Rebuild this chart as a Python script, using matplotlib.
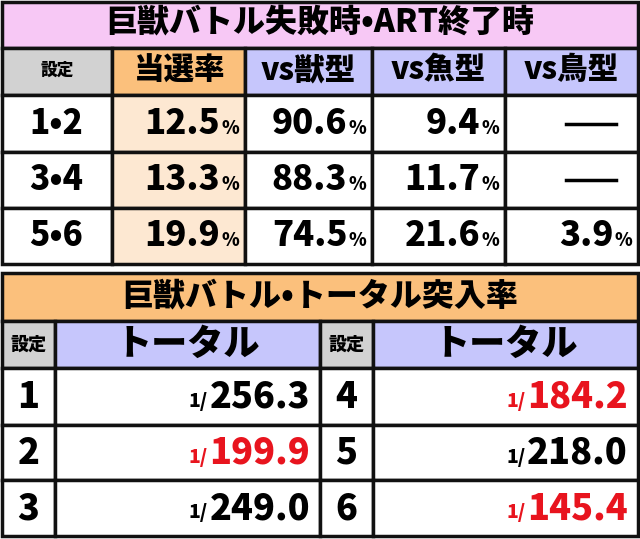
import matplotlib
matplotlib.use("Agg")
import matplotlib.pyplot as plt
from matplotlib.patches import Rectangle

plt.rcParams['font.family'] = ['Noto Sans CJK JP', 'DejaVu Sans']

title1 = "巨獣バトル失敗時•ART終了時"
headers1 = ["設定", "当選率", "vs獣型", "vs魚型", "vs鳥型"]
settings1 = ["1•2", "3•4", "5•6"]
rate = ["12.5", "13.3", "19.9"]
vs_beast = ["90.6", "88.3", "74.5"]
vs_fish = ["9.4", "11.7", "21.6"]
vs_bird = [None, None, "3.9"]

title2 = "巨獣バトル•トータル突入率"
settings2 = ["1", "2", "3", "4", "5", "6"]
totals = ["256.3", "199.9", "249.0", "184.2", "218.0", "145.4"]
red = [False, True, False, True, False, True]

PINK = "#f7c8f5"; GRAY = "#d2d2d2"; ORANGE = "#fbc07c"; LAV = "#c6c6fc"; PALE = "#fde8d2"; RED = "#e8141e"
FAM = ['Noto Sans CJK JP', 'DejaVu Sans']

fig = plt.figure(figsize=(6.4, 5.39), dpi=100)
ax = fig.add_axes([0, 0, 1, 1])
ax.set_xlim(0, 640); ax.set_ylim(539, 0); ax.axis('off')
fig.canvas.draw()
R = fig.canvas.get_renderer()

def cell(x0, x1, y0, y1, fc):
    ax.add_patch(Rectangle((x0, y0), x1 - x0, y1 - y0, fc=fc, ec="#111111", lw=2.5))

def txt(x, y, s, size, color="black", ha="center"):
    return ax.text(x, y, s, fontsize=size, fontweight="black", color=color, ha=ha, va="center", family=FAM)

def width(t):
    return t.get_window_extent(R).width

# top table
cols1 = [2, 112, 245, 372, 505, 638]
cell(2, 638, 2, 48, PINK)
txt(320, 23, title1, 23)
hfc = [GRAY, ORANGE, LAV, LAV, LAV]
for i, h in enumerate(headers1):
    cell(cols1[i], cols1[i+1], 48, 95, hfc[i])
    txt((cols1[i]+cols1[i+1])/2, 70, h, 12 if i == 0 else 22)
rows1 = [95, 152, 208, 264]
for r in range(3):
    y0, y1 = rows1[r], rows1[r+1]; yc = (y0+y1)/2
    for i in range(5):
        cell(cols1[i], cols1[i+1], y0, y1, PALE if i == 1 else "white")
    txt(56, yc, settings1[r], 24)
    vals = [rate[r], vs_beast[r], vs_fish[r], vs_bird[r]]
    for j, v in enumerate(vals):
        xr = cols1[j+2] - 6
        if v is None:
            ax.plot([cols1[j+2]-72, cols1[j+2]-22], [yc, yc], color="black", lw=2.5)
        else:
            p = txt(xr, yc+5, "%", 13, ha="right")
            txt(xr - width(p) - 1, yc, v, 25, ha="right")

# bottom table
cell(2, 638, 273, 321, ORANGE)
txt(320, 296, title2, 23)
cols2 = [2, 55, 320, 373, 638]
for i in range(4):
    cell(cols2[i], cols2[i+1], 321, 368, GRAY if i % 2 == 0 else LAV)
    txt((cols2[i]+cols2[i+1])/2, 344, "設定" if i % 2 == 0 else "トータル", 13 if i % 2 == 0 else 26)
rows2 = [368, 425, 480, 536]
for r in range(3):
    y0, y1 = rows2[r], rows2[r+1]; yc = (y0+y1)/2
    for half in range(2):
        k = r + 3*half
        c0, c1, c2 = cols2[2*half], cols2[2*half+1], cols2[2*half+2]
        cell(c0, c1, y0, y1, "white"); cell(c1, c2, y0, y1, "white")
        txt((c0+c1)/2, yc, settings2[k], 26)
        col = RED if red[k] else "black"
        t = txt(c2-10, yc, totals[k], 26, color=col, ha="right")
        txt(c2-10-width(t)-2, yc+5, "1/", 14, color=col, ha="right")

fig.savefig("out.png", dpi=100)
